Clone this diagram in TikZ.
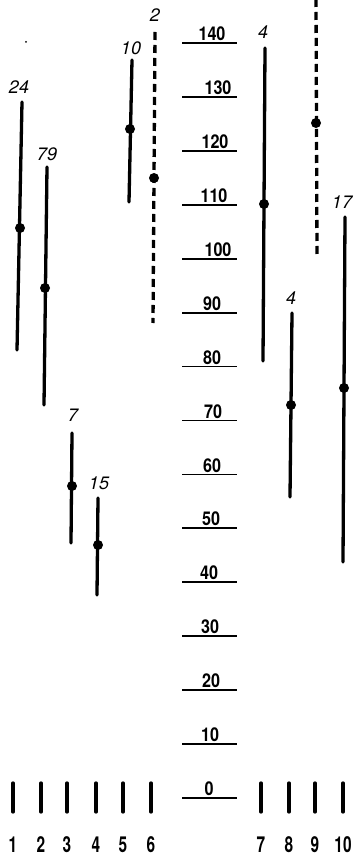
\documentclass[tikz,border=0pt]{standalone}
\usepackage{fontspec}
\setmainfont{TeX Gyre Heros}
\begin{document}
\begin{tikzpicture}[x=1pt,y=-1pt,
 bar/.style={line width=3.3pt,line cap=round},
 dbar/.style={line width=3.3pt,dash pattern=on 8pt off 5pt},
 dotnode/.style={circle,fill=black,inner sep=0pt,minimum size=10pt},
 blab/.style={font=\fontsize{18}{18}\selectfont\itshape,inner sep=0pt},
 slab/.style={font=\fontsize{19}{19}\selectfont\bfseries,inner sep=0pt,anchor=south},
 ulin/.style={line width=1.8pt},
 tickline/.style={line width=3.3pt,line cap=round},
 clab/.style={font=\fontsize{22}{22}\selectfont\bfseries,inner sep=0pt}]
\useasboundingbox (0,0) rectangle (356,858);
% scale
\foreach \v/\cx in {140/212,130/218,120/215,110/214,100/218,90/212,80/212,70/213,60/212,50/211,40/209,30/210,20/211,10/210,0/209}{
  \pgfmathsetmacro\yy{798-5.393*\v}
  \coordinate (ul\v) at (182,\yy);
  \coordinate (ur\v) at (237,\yy);
  \draw[ulin] (ul\v) -- (ur\v);
  \node[slab] (s\v) at (\cx,\yy-2) {\scalebox{0.85}[1]{\v}};
}
% solid bars
\foreach \n/\xt/\yt/\xb/\yb/\dx/\dy/\lx/\ly/\lab in {
 1/22/102/17/350/20/228/19/87/24,
 2/47/167/44/405/45/288/47/154/79,
 3/72/433/71/543/72/486/73/415/7,
 4/98/498/97/595/98/545/99/483/15,
 5/132/60/129/202/130/129/131/48/10,
 7/265/48/263/361/264/204/263/32/4,
 8/292/313/290/497/291/405/291/298/4,
 10/345/217/343/562/344/388/342/202/17}{
  \coordinate (t\n) at (\xt,\yt);
  \coordinate (b\n) at (\xb,\yb);
  \draw[bar] (t\n) -- (b\n);
  \node[dotnode] (d\n) at (\dx,\dy) {};
  \node[blab] (l\n) at (\lx,\ly) {\lab};
}
% dashed bars
\coordinate (t6) at (155,32);
\coordinate (b6) at (153,323);
\draw[dbar] (t6) -- (b6);
\node[dotnode] (d6) at (154,178) {};
\node[blab] (l6) at (155,15) {2};
\coordinate (t9) at (316,-1);
\coordinate (b9) at (317,257);
\draw[dbar] (t9) -- (b9);
\node[dotnode] (d9) at (316,123) {};
% speck
\fill (26,42) circle (1pt);
% bottom ticks and labels
\foreach \i/\xx in {1/13,2/41,3/67,4/96,5/123,6/151,7/261,8/289,9/315,10/343}{
  \coordinate (kt\i) at (\xx,783);
  \coordinate (kb\i) at (\xx,812);
  \draw[tickline] (kt\i) -- (kb\i);
  \node[clab] (c\i) at (\xx,845) {\scalebox{0.7}[1]{\i}};
}
\end{tikzpicture}
\end{document}
